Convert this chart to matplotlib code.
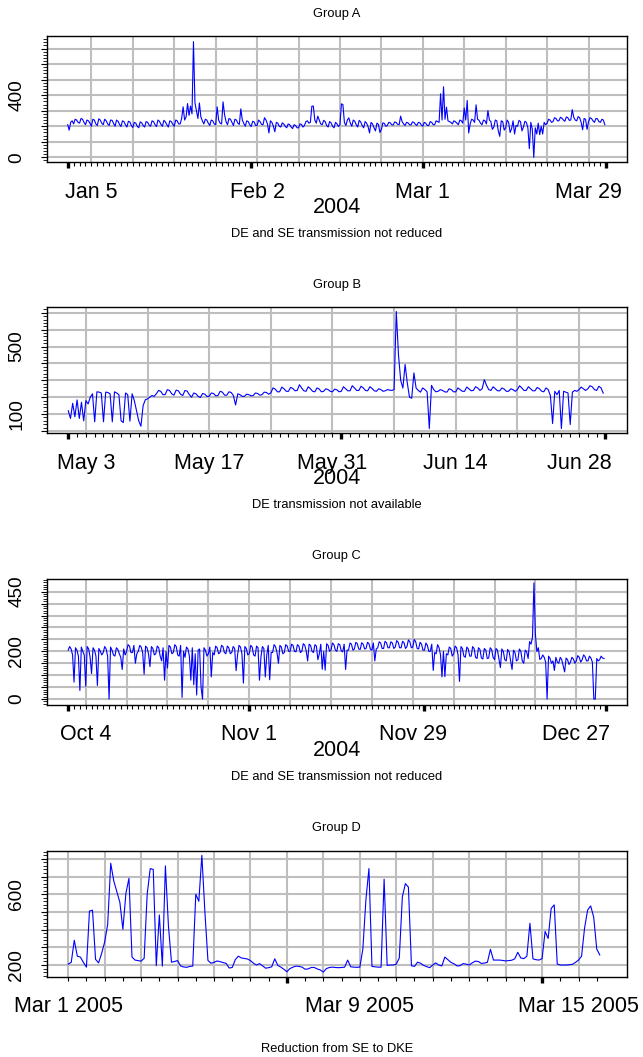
import numpy as np
import pandas as pd
import matplotlib
matplotlib.use("Agg")
import matplotlib.pyplot as plt
import matplotlib.dates as mdates
import matplotlib.transforms as mtransforms
from matplotlib.ticker import FixedLocator, MultipleLocator

plt.rcParams['font.family'] = ['Liberation Sans', 'DejaVu Sans']

# ---- data: readings every 6 h (A, B, C) and every 2 h (D) ----
a_start = "2004-01-01"
a_values = [
    210, 175, 225, 235,  215, 245, 240, 225,  220, 250, 245, 225,  210, 240, 235, 220,
    200, 245, 240, 215,  205, 248, 240, 220,  210, 245, 235, 215,  205, 240, 238, 218,
    200, 240, 232, 212,  198, 235, 230, 210,  195, 232, 228, 205,  192, 225, 220, 200,
    190, 228, 222, 205,  195, 230, 225, 208,  200, 235, 230, 210,  198, 240, 232, 212,
    200, 238, 228, 210,  195, 235, 230, 212,  200, 240, 235, 215,  215, 250, 325, 240,
    260, 346, 270, 330,  280, 745, 350, 300,  250, 350, 260, 235,  215, 245, 240, 220,
    205, 240, 235, 215,  210, 325, 240, 220,  215, 357, 275, 230,  210, 250, 245, 225,
    205, 245, 240, 220,  212, 312, 240, 218,  200, 235, 230, 210,  198, 232, 228, 205,
    205, 240, 230, 212,  210, 255, 240, 215,  157, 235, 225, 200,  165, 225, 220, 200,
    195, 222, 215, 200,  190, 215, 210, 195,  185, 210, 205, 190,  190, 215, 212, 195,
    205, 230, 235, 220,  225, 329, 330, 240,  220, 265, 240, 215,  210, 238, 230, 205,
    195, 230, 222, 200,  190, 225, 215, 198,  210, 344, 340, 225,  205, 240, 254, 220,
    200, 240, 232, 210,  195, 238, 228, 205,  190, 230, 220, 198,  157, 225, 215, 190,
    170, 220, 212, 160,  180, 222, 218, 200,  205, 225, 222, 210,  208, 228, 224, 212,
    210, 265, 230, 215,  205, 225, 222, 210,  208, 228, 225, 212,  205, 225, 222, 208,
    200, 225, 220, 205,  205, 230, 225, 210,  210, 235, 230, 225,  409, 240, 454, 245,
    323, 235, 230, 225,  215, 235, 230, 220,  210, 240, 235, 220,  318, 240, 366, 157,
    215, 245, 240, 225,  338, 245, 238, 220,  210, 240, 235, 215,  301, 240, 230, 180,
    195, 240, 235, 170,  135, 235, 230, 175,  190, 240, 225, 160,  185, 235, 150, 205,
    200, 238, 230, 170,  195, 232, 225, 190,   56, 225, 180,   0,  190, 150, 220, 146,
    200, 150, 225, 210,  220, 245, 240, 225,  230, 255, 250, 235,  235, 258, 252, 240,
    232, 260, 255, 238,  240, 307, 258, 240,  235, 262, 255, 225,  178, 250, 245, 180,
    230, 255, 250, 235,  225, 250, 248, 230,  225, 245, 240, 210,
]

b_start = "2004-05-01"
b_values = [
    120,  74, 164,  84,  184,  74, 170,  60,  180, 160, 200, 220,   54, 232, 230, 225,
     54, 230, 228, 220,   54, 232, 225, 215,   60,  50, 225, 215,   58, 220, 180, 120,
     60,  28, 150, 185,  190, 200, 210, 205,  220, 240, 235, 215,  215, 245, 240, 220,
    212, 242, 238, 218,  210, 240, 236, 215,  200, 225, 220, 205,  198, 222, 218, 205,
    205, 225, 222, 208,  210, 235, 230, 212,  212, 232, 228, 210,  154, 220, 215, 205,
    205, 218, 215, 208,  210, 225, 222, 212,  215, 230, 228, 218,  225, 255, 248, 232,
    232, 260, 250, 235,  235, 258, 252, 238,  240, 274, 255, 238,  235, 262, 250, 235,
    232, 255, 248, 232,  235, 250, 245, 235,  232, 248, 244, 232,  235, 262, 250, 238,
    238, 268, 255, 240,  240, 265, 255, 240,  238, 262, 252, 238,  235, 250, 245, 235,
    238, 245, 242, 240,  245, 708, 450, 300,  254, 394, 284, 200,  194, 344, 254, 240,
    230, 255, 245, 232,   14, 270, 245, 232,  235, 245, 240, 232,  230, 250, 245, 232,
    232, 255, 245, 235,  235, 260, 250, 238,  240, 262, 255, 240,  250, 304, 270, 245,
    240, 262, 250, 238,  238, 255, 248, 235,  235, 250, 245, 235,  245, 268, 255, 240,
    240, 262, 250, 238,  238, 258, 250, 236,  232, 255, 245, 210,   44, 235, 215, 240,
     14, 235, 230, 225,   38, 230, 240, 235,  245, 260, 250, 240,  250, 268, 262, 245,
    240, 265, 255, 224,
]

c_start = "2004-10-01"
c_values = [
    205, 220, 210, 185,   71, 215, 205, 180,   36, 218, 200, 185,   54, 220, 210, 175,
    107, 215, 205, 180,   57, 212, 200, 185,  195, 220, 210, 180,    0, 218, 205, 185,
    180, 215, 208, 190,  175, 124, 210, 185,  200, 228, 222, 195,  195, 225, 150, 190,
    200, 225, 218, 195,  104, 222, 215, 190,  136, 220, 212, 185,  190, 222, 215, 180,
    160, 215,  79, 200,  130, 225, 218, 190,  195, 228, 220, 185,  180, 225,   7, 200,
    175, 218, 210, 180,   79, 215,  60, 190,   17, 205, 210,  50,    0, 215, 205, 180,
    190, 218,  93, 195,  185, 222, 215, 190,  195, 225, 220, 195,  190, 222, 215, 190,
    195, 220, 212, 119,  185, 225, 218, 190,   67, 220, 212, 185,  190, 225, 218, 185,
    180, 222, 215,  79,  175, 220, 212,  93,  185, 225,  81, 195,  195, 228, 220, 195,
    150, 225, 218, 190,  195, 228, 222, 200,  200, 230, 225, 200,  198, 228, 222, 195,
    200, 232, 226, 202,  160, 230, 225, 200,  195, 228, 222, 165,  190, 230, 125, 200,
    121, 232, 225, 200,  205, 235, 228, 205,  200, 232, 228, 202,  198, 230, 124, 205,
    205, 235, 230, 205,  210, 238, 232, 210,  208, 236, 230, 210,  212, 238, 232, 208,
    205, 235, 160, 210,  215, 240, 235, 212,  212, 242, 236, 215,  215, 240, 235, 212,
    218, 245, 238, 215,  215, 242, 236, 212,  220, 248, 240, 215,  218, 250, 240, 212,
    210, 238, 230, 205,  205, 235, 225, 200,  200, 230, 120, 195,  190, 228, 215, 185,
     93, 200,  94, 190,  185, 218, 212, 180,  190, 222, 215, 185,   74, 220, 212, 180,
    175, 218, 210, 180,  180, 220, 212, 175,  170, 215, 208, 172,  168, 212, 205, 170,
    172, 215, 208, 175,  165, 212, 205, 168,  132, 210, 200, 165,  160, 208, 198, 162,
    124, 205, 195, 160,  165, 210, 200, 160,  150, 205, 198, 170,  241, 230, 260, 487,
    270, 199, 215, 166,  170, 185, 175, 155,    0, 180, 170, 150,  160, 120, 175, 155,
    150, 175, 165, 140,  114, 172, 165, 145,  155, 175, 168, 150,  160, 182, 175, 155,
    165, 185, 178, 160,  160, 180, 172, 155,    0,   0, 170, 160,  165, 180, 172, 170,
]

d_start = "2005-03-01"
d_values = [
    205, 215, 340, 250, 245, 215, 188, 505, 510, 232, 212, 265,
    330, 430, 775, 675, 615, 555, 402, 606, 690, 245, 228, 225,
    222, 238, 600, 745, 740, 196, 483, 194, 760, 420, 216, 220,
    225, 195, 189, 187, 192, 194, 600, 560, 820, 500, 226, 210,
    215, 223, 219, 214, 209, 183, 186, 230, 250, 240, 237, 234,
    225, 210, 200, 208, 195, 182, 185, 190, 235, 198, 188, 176,
    162, 180, 188, 194, 192, 188, 176, 178, 186, 186, 178, 172,
    160, 180, 186, 188, 186, 185, 186, 188, 228, 190, 188, 187,
    188, 290, 568, 745, 192, 190, 188, 188, 685, 198, 200, 200,
    205, 240, 585, 660, 640, 196, 192, 216, 210, 198, 191, 185,
    200, 212, 200, 195, 245, 230, 215, 207, 195, 196, 208, 205,
    200, 212, 222, 220, 209, 211, 215, 289, 228, 228, 228, 226,
    223, 225, 227, 235, 272, 240, 236, 250, 436, 235, 230, 228,
    236, 390, 350, 520, 540, 205, 200, 200, 200, 202, 204, 215,
    228, 250, 410, 511, 534, 470, 290, 257,
]

a_labels = ["Jan 5", "Feb 2", "Mar 1", "Mar 29"]
b_labels = ["May 3", "May 17", "May 31", "Jun 14", "Jun 28"]
c_labels = ["Oct 4", "Nov 1", "Nov 29", "Dec 27"]
d_labels = ["Mar 1 2005", "Mar 9 2005", "Mar 15 2005"]

# ---- layout (pixels of the 643 x 1057 picture) ----
W, H = 643, 1057
LEFT, RIGHT, BOX_H = 46.7, 627.0, 126.0
GRID = '#bebebe'
BLUE = '#0000ff'

fig = plt.figure(figsize=(W / 100, H / 100), dpi=100)


def num(s):
    return mdates.date2num(pd.Timestamp(s).to_pydatetime())


def shift(trans, dx=0, dy=0):
    return mtransforms.offset_copy(trans, fig=fig, x=dx, y=dy, units='dots')


def panel(top, start, values, freq, xlim, ylim, vgrid, hgrid, yminor,
          bold, minor, ylabels, xlabels, title, subtitle, year=None):
    ax = fig.add_axes([LEFT / W, 1 - (top + BOX_H) / H,
                       (RIGHT - LEFT) / W, BOX_H / H])
    t = mdates.date2num(pd.date_range(start, periods=len(values), freq=freq).to_pydatetime())
    x0 = num(start)
    for g in vgrid:
        ax.axvline(g, color=GRID, lw=1.5, zorder=1)
    for g in hgrid:
        ax.axhline(g, color=GRID, lw=1.5, zorder=1)
    ax.plot(t, values, color=BLUE, lw=0.8, zorder=3)
    ax.set_xlim(x0 + xlim[0], x0 + xlim[1])
    ax.set_ylim(*ylim)

    ax.xaxis.set_major_locator(FixedLocator(bold))
    ax.xaxis.set_minor_locator(FixedLocator(minor))
    ax.yaxis.set_major_locator(FixedLocator(hgrid))
    ax.yaxis.set_minor_locator(MultipleLocator(yminor))
    ax.tick_params(axis='x', which='major', length=4.5, width=2.4, labelbottom=False)
    ax.tick_params(axis='x', which='minor', length=3, width=0.8)
    ax.tick_params(axis='y', which='major', length=4, width=0.8, labelleft=False)
    ax.tick_params(axis='y', which='minor', length=3, width=0.6)
    for s in ax.spines.values():
        s.set_linewidth(1.0)

    xt = mtransforms.blended_transform_factory(ax.transData, ax.transAxes)
    yt = mtransforms.blended_transform_factory(ax.transAxes, ax.transData)
    for val, lab in ylabels:
        ax.text(0, val, lab, transform=shift(yt, dx=-29.7), rotation=90,
                ha='center', va='center', fontsize=13.7)
    for pos, lab in xlabels:
        ax.text(pos, 0, lab, transform=shift(xt, dy=-30), ha='center',
                va='center', fontsize=15.5)
    ax.text(0.5, 1, title, transform=shift(ax.transAxes, dy=22.7),
            ha='center', va='center', fontsize=9.3)
    if year:
        ax.text(0.5, 0, year, transform=shift(ax.transAxes, dy=-45.5),
                ha='center', va='center', fontsize=15.5)
    ax.text(0.5, 0, subtitle, transform=shift(ax.transAxes, dy=-72),
            ha='center', va='center', fontsize=9.3)
    return ax


def days(s, e, freq='1D'):
    return list(mdates.date2num(pd.date_range(s, e, freq=freq).to_pydatetime()))


# Group A
a_grid = days("2004-01-05", "2004-03-29", '7D')
panel(36.3, a_start, a_values, '6h', (-3.55, 94.5), (-32, 779), a_grid,
      list(range(0, 701, 100)), 20,
      [num(d) for d in ["2004-01-01", "2004-02-01", "2004-03-01", "2004-04-01"]],
      days("2004-01-01", "2004-04-01"),
      [(0, "0"), (400, "400")],
      list(zip(a_grid[::4], a_labels)),
      "Group A", "DE and SE transmission not reduced", "2004")

# Group B
b_grid = days("2004-05-03", "2004-06-28", '7D')
panel(307.3, b_start, b_values, '6h', (-2.45, 63.45), (-14, 733), b_grid,
      list(range(0, 701, 100)), 20,
      [num(d) for d in ["2004-05-01", "2004-06-01", "2004-07-01"]],
      days("2004-05-01", "2004-07-01"),
      [(100, "100"), (500, "500")],
      list(zip(b_grid[::2], b_labels)),
      "Group B", "DE transmission not available", "2004")

# Group C
c_grid = days("2004-10-04", "2004-12-27", '7D')
panel(578.8, c_start, c_values, '6h', (-3.68, 95.68), (-24, 504), c_grid,
      list(range(0, 451, 50)), 10,
      [num(d) for d in ["2004-10-01", "2004-11-01", "2004-12-01", "2005-01-01"]],
      days("2004-10-01", "2005-01-01"),
      [(0, "0"), (200, "200"), (450, "450")],
      list(zip(c_grid[::4], c_labels)),
      "Group C", "DE and SE transmission not reduced", "2004")

# Group D
d_grid = days("2005-03-01", "2005-03-15")
panel(850.7, d_start, d_values, '2h', (-0.59, 15.33), (134, 846), d_grid,
      list(range(200, 801, 100)), 20,
      [num(d) for d in ["2005-03-07", "2005-03-14"]],
      days("2005-03-01", "2005-03-15 12:00", '12h'),
      [(200, "200"), (600, "600")],
      [(d_grid[0], d_labels[0]), (d_grid[8], d_labels[1]), (d_grid[14], d_labels[2])],
      "Group D", "Reduction from SE to DKE")

fig.savefig("out.png", dpi=100)
